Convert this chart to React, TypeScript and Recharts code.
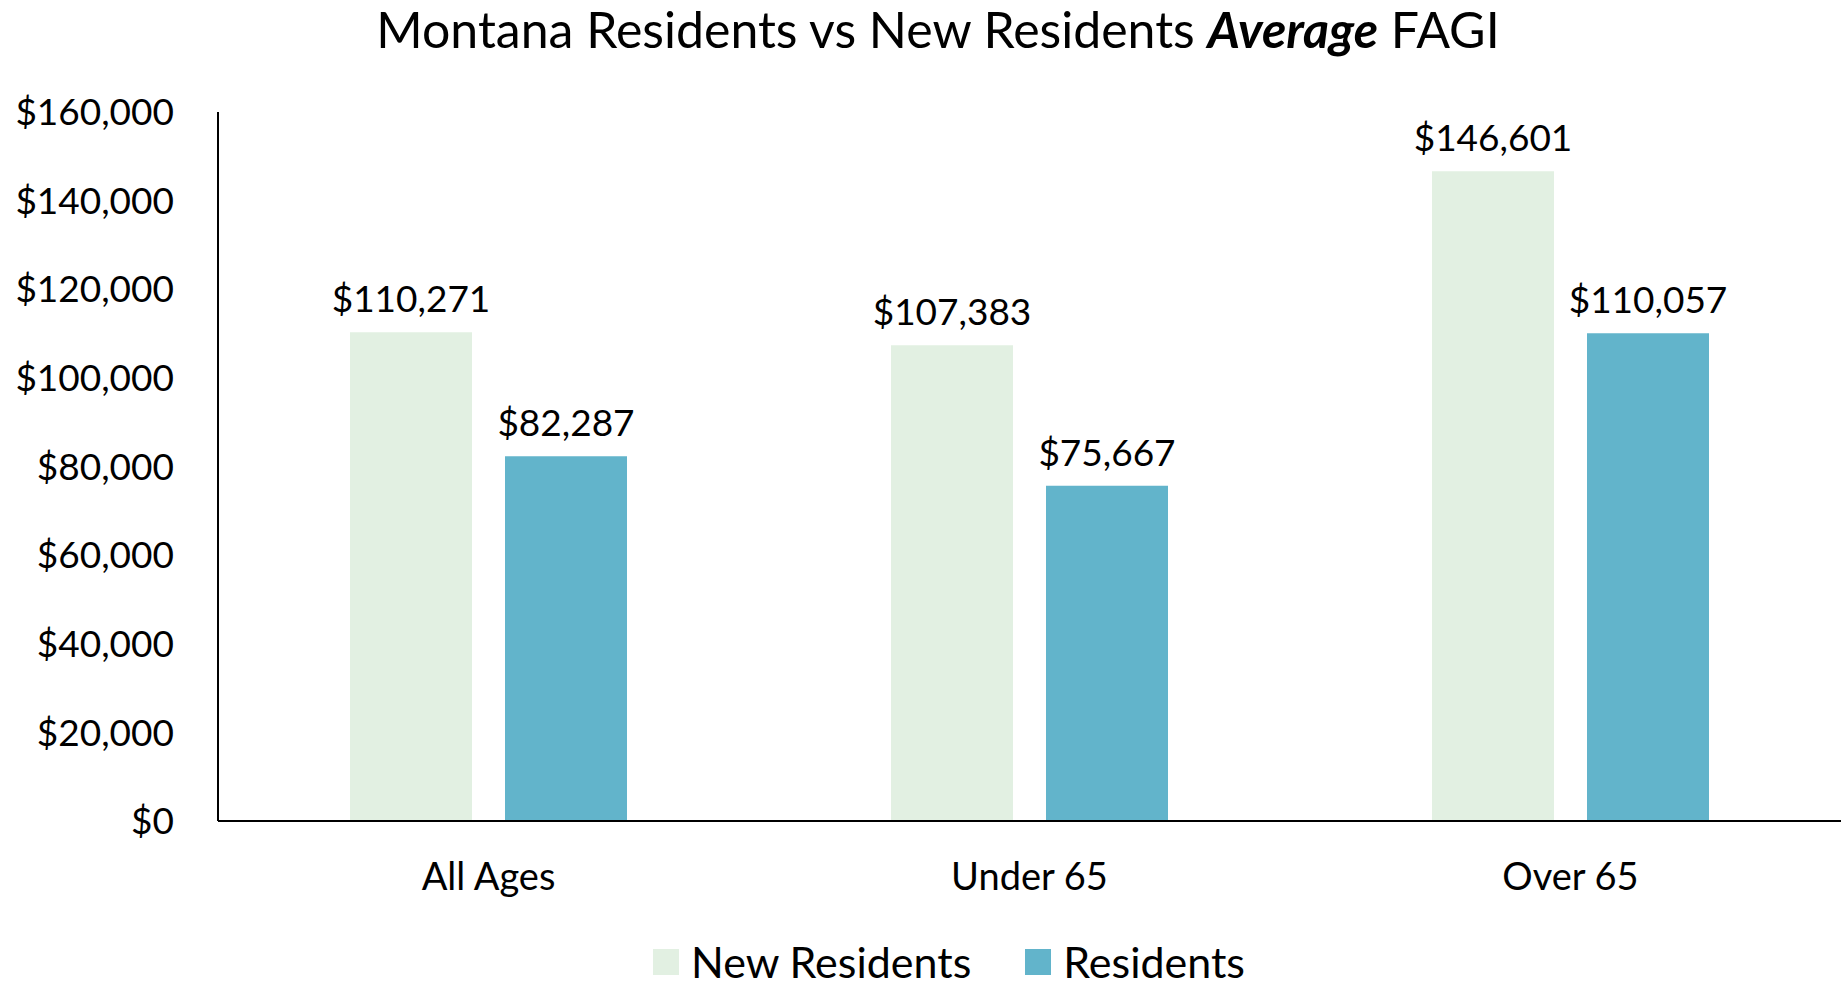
import React from 'react';
import { BarChart, Bar, XAxis, YAxis, LabelList } from 'recharts';

const categories = ['All Ages', 'Under 65', 'Over 65'];
const newResidents = [110271, 107383, 146601];
const residents = [82287, 75667, 110057];
const yTicks = [0, 20000, 40000, 60000, 80000, 100000, 120000, 140000, 160000];

const NEW_COLOR = '#E2F0E2';
const RES_COLOR = '#62B4CB';
const FONT = 'Lato, "Open Sans", sans-serif';

const data = categories.map((name, i) => ({
  name,
  newResidents: newResidents[i],
  residents: residents[i],
}));

const money = (v: number) => `$${v.toLocaleString('en-US')}`;

const LegendBox = () => (
  <div
    style={{
      position: 'absolute',
      left: 653,
      top: 936,
      display: 'flex',
      alignItems: 'center',
      fontFamily: FONT,
      fontSize: 43,
      color: '#000',
      whiteSpace: 'nowrap',
    }}
  >
    <div style={{ display: 'flex', alignItems: 'center', marginRight: 54 }}>
      <span style={{ width: 26, height: 26, background: NEW_COLOR, display: 'inline-block', marginRight: 12 }} />
      <span>New Residents</span>
    </div>
    <div style={{ display: 'flex', alignItems: 'center' }}>
      <span style={{ width: 26, height: 26, background: RES_COLOR, display: 'inline-block', marginRight: 12 }} />
      <span>Residents</span>
    </div>
  </div>
);

export default function App() {
  return (
    <div style={{ position: 'absolute', left: 0, top: 0, width: 1841, height: 986, overflow: 'hidden', background: '#fff' }}>
      <div
        style={{
          position: 'absolute',
          left: 0,
          width: 1876,
          top: -2,
          textAlign: 'center',
          fontFamily: FONT,
          fontSize: 50,
          lineHeight: '62px',
          color: '#000',
          whiteSpace: 'nowrap',
        }}
      >
        Montana Residents vs New Residents <b><i>Average</i></b> FAGI
      </div>
      <BarChart
        width={1841}
        height={986}
        data={data}
        margin={{ top: 112, right: 0, bottom: 135, left: 0 }}
        barGap={33}
        barSize={122}
      >
        <XAxis
          dataKey="name"
          height={30}
          axisLine={{ stroke: '#000', strokeWidth: 2 }}
          tickLine={false}
          tickSize={0}
          tickMargin={42}
          tick={{ fill: '#000', fontSize: 38, fontFamily: FONT }}
        />
        <YAxis
          width={218}
          domain={[0, 160000]}
          ticks={yTicks}
          interval={0}
          tickFormatter={money}
          axisLine={{ stroke: '#000', strokeWidth: 2 }}
          tickLine={false}
          tickSize={0}
          tickMargin={44}
          tick={{ fill: '#000', fontSize: 37, fontFamily: FONT }}
        />
        <Bar dataKey="newResidents" name="New Residents" fill={NEW_COLOR} isAnimationActive={false}>
          <LabelList dataKey="newResidents" position="top" offset={20} formatter={money} style={{ fill: '#000', fontSize: 37, fontFamily: FONT }} />
        </Bar>
        <Bar dataKey="residents" name="Residents" fill={RES_COLOR} isAnimationActive={false}>
          <LabelList dataKey="residents" position="top" offset={20} formatter={money} style={{ fill: '#000', fontSize: 37, fontFamily: FONT }} />
        </Bar>
      </BarChart>
      <LegendBox />
    </div>
  );
}
